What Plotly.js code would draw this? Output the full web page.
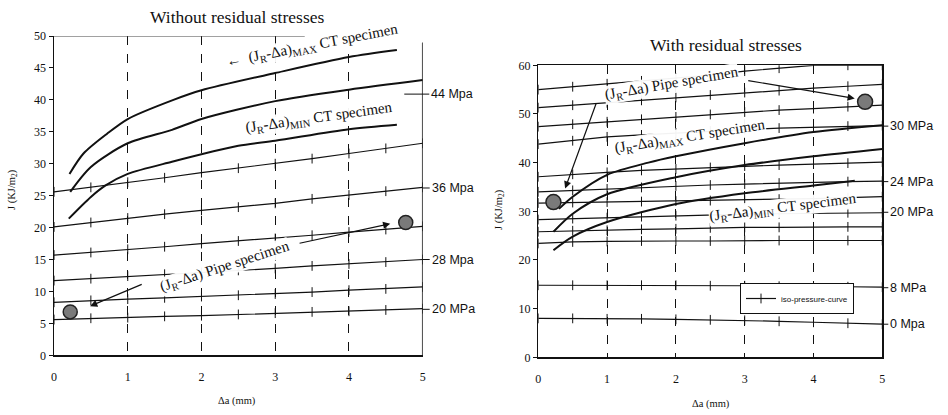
<!DOCTYPE html>
<html><head><meta charset="utf-8">
<script src="https://cdn.plot.ly/plotly-3.0.1.min.js"></script>
<style>html,body{margin:0;padding:0;background:#fff}#chart{width:948px;height:415px}</style>
</head><body><div id="chart"></div>
<script>
// ---------- data ----------
const xTicks = [0, 1, 2, 3, 4, 5];
const isoX = [0, 0.5, 1, 1.5, 2, 2.5, 3, 3.5, 4, 4.5, 5];

// Left panel: without residual stresses (iso-pressure curves, bottom to top)
const leftIso1 = [5.6, 5.8, 5.9, 6.1, 6.2, 6.4, 6.6, 6.8, 6.9, 7.1, 7.3];
const leftIso2 = [8.3, 8.6, 8.8, 9.0, 9.2, 9.4, 9.6, 9.9, 10.2, 10.4, 10.7];
const leftIso3 = [11.7, 12.0, 12.4, 12.7, 13.0, 13.3, 13.6, 14.0, 14.3, 14.6, 15.0];
const leftIso4 = [15.7, 16.1, 16.6, 17.0, 17.5, 17.9, 18.3, 18.8, 19.3, 19.7, 20.2];
const leftIso5 = [20.1, 20.8, 21.5, 22.1, 22.7, 23.2, 23.8, 24.5, 25.1, 25.7, 26.3];
const leftIso6 = [25.6, 26.3, 27.1, 27.8, 28.6, 29.3, 30.0, 30.8, 31.6, 32.4, 33.2];

// Left panel J-R curves
const leftMaxX = [0.21, 0.4, 0.72, 1.0, 1.62, 2.0, 3.0, 4.0, 4.65];
const leftMaxJ = [28.4, 31.6, 34.7, 37.0, 40.0, 41.5, 44.2, 46.7, 47.8];
const leftMidX = [0.22, 0.5, 1.0, 1.6, 2.0, 3.0, 4.0, 5.0];
const leftMidJ = [25.6, 29.5, 33.2, 35.3, 37.0, 39.8, 41.6, 43.1];
const leftMinX = [0.2, 0.5, 0.7, 1.0, 1.6, 2.5, 3.0, 4.0, 4.65];
const leftMinJ = [21.4, 24.8, 26.6, 28.4, 30.3, 32.8, 33.6, 35.4, 36.1];
const leftPipeX = [0.22, 4.77];
const leftPipeJ = [6.8, 20.8];
const leftLabels = ["44 Mpa", "36 Mpa", "28 Mpa", "20 MPa"];
const leftLabelJ = [40.9, 26.2, 15.0, 7.2];

// Right panel: with residual stresses (iso-pressure curves, bottom to top)
const rightIso1 = [8.0, 8.0, 7.9, 7.9, 7.8, 7.7, 7.6, 7.4, 7.2, 7.0, 6.8];
const rightIso2 = [14.8, 14.8, 14.8, 14.8, 14.8, 14.7, 14.7, 14.6, 14.6, 14.5, 14.4];
const rightIso3 = [23.4, 23.7, 23.8, 23.9, 23.9, 23.9, 24.0, 24.0, 24.0, 24.0, 24.0];
const rightIso4 = [25.8, 26.0, 26.1, 26.3, 26.4, 26.6, 26.7, 26.7, 26.8, 26.8, 26.8];
const rightIso5 = [28.3, 28.5, 28.7, 28.9, 29.1, 29.3, 29.4, 29.5, 29.6, 29.7, 29.7];
const rightIso6 = [31.7, 31.8, 31.9, 32.0, 32.1, 32.2, 32.3, 32.5, 32.6, 32.8, 33.0];
const rightIso7 = [34.0, 34.3, 34.6, 34.9, 35.2, 35.4, 35.6, 35.8, 35.9, 36.1, 36.2];
const rightIso8 = [37.1, 37.6, 38.0, 38.4, 38.7, 39.0, 39.3, 39.5, 39.7, 39.9, 40.1];
const rightIso9 = [43.8, 44.5, 45.3, 45.7, 46.1, 46.5, 46.8, 47.1, 47.3, 47.5, 47.6];
const rightIso10 = [47.4, 47.9, 48.4, 48.9, 49.4, 49.9, 50.4, 50.8, 51.1, 51.5, 51.8];
const rightIso11 = [51.3, 51.8, 52.3, 52.8, 53.4, 53.9, 54.4, 54.8, 55.3, 55.7, 56.1];
const rightIso12 = [55.0, 55.6, 56.2, 56.8, 57.4, 58.0, 58.8, 59.4, 60.0, 60.0, 60.0];

// Right panel J-R curves
const rightMaxX = [0.3, 0.5, 1.0, 1.6, 2.0, 3.0, 4.0, 5.0];
const rightMaxJ = [30.5, 33.0, 37.5, 40.0, 41.3, 44.0, 46.3, 47.7];
const rightMidX = [0.22, 0.5, 1.0, 2.0, 3.0, 4.0, 5.0];
const rightMidJ = [25.8, 29.5, 33.5, 37.0, 39.5, 41.3, 42.8];
const rightMinX = [0.22, 0.5, 1.0, 2.0, 3.0, 4.0, 4.6];
const rightMinJ = [22.0, 24.8, 27.8, 31.5, 33.7, 35.3, 36.3];
const rightPipeX = [0.22, 4.75];
const rightPipeJ = [31.9, 52.5];
const rightLabels = ["36 MPa", "30 MPa", "24 MPa", "20 MPa", "8 MPa", "0 Mpa"];
const rightLabelJ = [60.7, 47.5, 36.1, 29.8, 14.3, 6.8];

// ---------- styling ----------
const SERIF = "Liberation Serif, Times New Roman, serif";
const SANS = "Liberation Sans, Arial, sans-serif";
const INK = "#111";

const traces = [];
function isoTrace(y, xa, ya, legend) {
  return {
    x: isoX, y: y, xaxis: xa, yaxis: ya, type: "scatter", mode: "lines+markers",
    line: { color: INK, width: 1.2 },
    marker: { symbol: "line-ns-open", size: 7, color: INK, line: { color: INK, width: 1 } },
    name: "iso-pressure-curve", showlegend: !!legend, hoverinfo: "skip"
  };
}
function curveTrace(x, y, xa, ya) {
  return { x: x, y: y, xaxis: xa, yaxis: ya, type: "scatter", mode: "lines",
    line: { color: INK, width: 2, shape: "spline", smoothing: 0.8 }, showlegend: false, hoverinfo: "skip" };
}
function pipeTrace(x, y, xa, ya, size) {
  return { x: x, y: y, xaxis: xa, yaxis: ya, type: "scatter", mode: "markers",
    marker: { symbol: "circle", size: size, color: "#7a7a7a", line: { color: "#222", width: 1.5 } },
    showlegend: false, hoverinfo: "skip", cliponaxis: false };
}

[leftIso1, leftIso2, leftIso3, leftIso4, leftIso5, leftIso6].forEach(a => traces.push(isoTrace(a, "x", "y", false)));
traces.push(curveTrace(leftMaxX, leftMaxJ, "x", "y"));
traces.push(curveTrace(leftMidX, leftMidJ, "x", "y"));
traces.push(curveTrace(leftMinX, leftMinJ, "x", "y"));

const rightIsos = [rightIso1, rightIso2, rightIso3, rightIso4, rightIso5, rightIso6,
                   rightIso7, rightIso8, rightIso9, rightIso10, rightIso11, rightIso12];
rightIsos.forEach((a, i) => traces.push(isoTrace(a, "x2", "y2", i === 1)));
traces.push(curveTrace(rightMaxX, rightMaxJ, "x2", "y2"));
traces.push(curveTrace(rightMidX, rightMidJ, "x2", "y2"));
traces.push(curveTrace(rightMinX, rightMinJ, "x2", "y2"));

traces.push(pipeTrace(leftPipeX, leftPipeJ, "x", "y", 14));
traces.push(pipeTrace(rightPipeX, rightPipeJ, "x2", "y2", 15));

const ann = [];
const paperText = (px, py, t, size, ang) => ({ xref: "paper", yref: "paper", x: px / 948, y: 1 - py / 415,
  xanchor: "center", yanchor: "middle", text: t, textangle: ang || 0, showarrow: false,
  font: { family: SERIF, size: size, color: INK } });
// panel titles
ann.push(paperText(237, 17, "Without residual stresses", 17.5));
ann.push(paperText(726, 45, "With residual stresses", 17.5));
// axis titles
ann.push(paperText(237, 401, "Δa (mm)", 10.5));
ann.push(paperText(711, 404, "Δa (mm)", 10.5));
ann.push(paperText(13, 190, "J (KJ/m<sub>2</sub>)", 10.5, -90));
ann.push(paperText(500, 210, "J (KJ/m<sub>2</sub>)", 10.5, -90));

// pressure labels
leftLabels.forEach((t, i) => ann.push({ xref: "x", yref: "y", x: i === 0 ? 4.75 : 5, y: leftLabelJ[i], text: t,
  showarrow: true, arrowhead: 0, arrowwidth: 1, arrowcolor: INK, ax: i === 0 ? 25 : 7, ay: 0, xanchor: "left",
  standoff: 0, font: { family: SANS, size: 12.5, color: INK } }));
rightLabels.forEach((t, i) => ann.push({ xref: "x2", yref: "y2", x: 5, y: rightLabelJ[i], text: t,
  showarrow: true, arrowhead: 0, arrowwidth: 1, arrowcolor: INK, ax: 6, ay: 0, xanchor: "left",
  standoff: 0, font: { family: SANS, size: 12.5, color: INK } }));

// curve labels
const lab = (xr, yr, x, y, t, ang) => ({ xref: xr, yref: yr, x: x, y: y, text: t, textangle: ang,
  xanchor: "center", yanchor: "middle",
  showarrow: false, bgcolor: "rgba(255,255,255,0.95)", borderpad: 0,
  font: { family: SERIF, size: 15, color: INK } });
ann.push(lab("x", "y", 3.5, 48.4, "←  (J<sub>R</sub>-Δa)<sub>MAX</sub> CT specimen", -11));
ann.push(lab("x", "y", 3.6, 37.2, "(J<sub>R</sub>-Δa)<sub>MIN</sub> CT specimen", -8));
ann.push(lab("x", "y", 2.31, 13.9, "(J<sub>R</sub>-Δa) Pipe specimen", -18));
ann.push(lab("x2", "y2", 1.93, 56.1, "(J<sub>R</sub>-Δa) Pipe specimen", -10));
ann.push(lab("x2", "y2", 2.2, 45.3, "(J<sub>R</sub>-Δa)<sub>MAX</sub> CT specimen", -9));
ann.push(lab("x2", "y2", 3.55, 30.6, "(J<sub>R</sub>-Δa)<sub>MIN</sub> CT specimen", -7));

// pipe arrows
const arr = (xr, yr, tx, ty, fx, fy) => ({ xref: xr, yref: yr, axref: xr, ayref: yr, x: tx, y: ty, ax: fx, ay: fy,
  text: "", showarrow: true, arrowhead: 2, arrowsize: 1.2, arrowwidth: 1.2, arrowcolor: INK });
ann.push(arr("x", "y", 0.49, 7.7, 1.21, 11.2));
ann.push(arr("x", "y", 4.56, 20.6, 3.31, 17.5));
ann.push(arr("x2", "y2", 0.39, 34.7, 0.85, 52.5));
ann.push(arr("x2", "y2", 4.6, 53.2, 3.03, 56.9));

const xBase = {
  range: [0, 5], tickvals: xTicks, ticks: "", showline: true, linecolor: INK, linewidth: 1.5,
  zeroline: false, showgrid: true, gridcolor: INK, griddash: "dash", gridwidth: 1,
  tickfont: { family: SERIF, size: 12, color: INK }, ticklabelstandoff: 10, fixedrange: true
};
const yBase = {
  ticks: "outside", ticklen: 4, tickcolor: INK, showline: true, linecolor: INK, linewidth: 1.5,
  zeroline: false, showgrid: false, tickfont: { family: SERIF, size: 12, color: INK }, fixedrange: true
};

const layout = {
  width: 948, height: 415, margin: { l: 0, r: 0, t: 0, b: 0 },
  paper_bgcolor: "#fff", plot_bgcolor: "rgba(0,0,0,0)",
  xaxis: Object.assign({}, xBase, { domain: [54 / 948, 422.7 / 948], anchor: "y" }),
  yaxis: Object.assign({}, yBase, { domain: [1 - 355.3 / 415, 1 - 36 / 415], range: [0, 50], dtick: 5, anchor: "x" }),
  xaxis2: Object.assign({}, xBase, { domain: [538.3 / 948, 882.3 / 948], anchor: "y2", mirror: true }),
  yaxis2: Object.assign({}, yBase, { domain: [1 - 357.3 / 415, 1 - 65.3 / 415], range: [0, 60], dtick: 10, anchor: "x2", mirror: true }),
  showlegend: true,
  legend: { x: 740 / 948, y: 1 - 283 / 415, xanchor: "left", yanchor: "top", bgcolor: "#fff",
    bordercolor: INK, borderwidth: 1, font: { family: SANS, size: 8, color: INK },
    itemwidth: 30, tracegroupgap: 0 },
  annotations: ann,
  shapes: [
    { type: "line", xref: "x", yref: "y", x0: 0, x1: 3.4, y0: 50, y1: 50, line: { color: "#444", width: 1.2 } },
    { type: "line", xref: "x", yref: "y", x0: 5, x1: 5, y0: 0, y1: 49, line: { color: INK, width: 1.5 } }
  ]
};

Plotly.newPlot("chart", traces, layout, { staticPlot: true, displayModeBar: false });
</script>
</body></html>
